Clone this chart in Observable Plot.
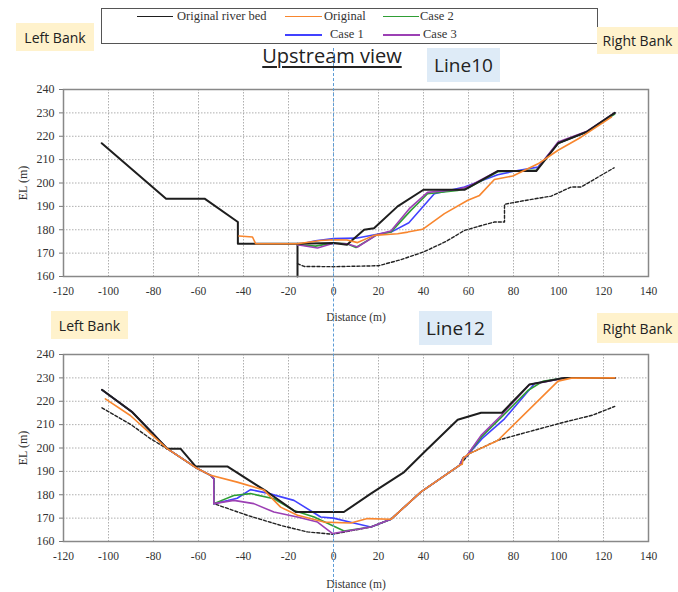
<!DOCTYPE html>
<html><head><meta charset="utf-8">
<script src="https://cdn.jsdelivr.net/npm/d3@7"></script>
<script src="https://cdn.jsdelivr.net/npm/@observablehq/plot@0.6"></script>
<style>
body{margin:0;background:#fff;}
#wrap{position:relative;width:678px;height:592px;overflow:hidden;font-family:"Open Sans",sans-serif;}
.abs{position:absolute;}
.bank{position:absolute;background:#fff2cc;font-size:14px;color:#222;display:flex;align-items:center;justify-content:center;}
.lbox{position:absolute;background:#deebf7;font-size:19px;color:#222;display:flex;align-items:center;justify-content:center;}
.leg{position:absolute;font-family:"Liberation Serif",serif;font-size:12.5px;color:#333;line-height:14px;}
</style></head>
<body><div id="wrap"></div>
<script>
// ---------- data ----------
const xTicks = [-120,-100,-80,-60,-40,-20,0,20,40,60,80,100,120,140];
const yTicks = [160,170,180,190,200,210,220,230,240];
const seriesNames = ["Original river bed","Original","Case 1","Case 2","Case 3"];
const seriesColors = ["#1e1e1e","#f8862e","#4141ff","#2f9e35","#9c40b4"];

// Line10
const bed10 = [[-103,217],[-74.4,193.3],[-57.3,193.3],[-42.5,183.3],[-42.5,174],[-16,174],[0,174.3],[6,173.6],[13.6,180],[18,180.6],[28.5,190],[40,197.1],[58.2,197.1],[73,205.1],[90.1,205.1],[99.8,217],[112.4,221.8],[125,230]];
const wall10 = [[-16,174],[-16,160]];
const rock10 = [[-16,165.5],[-13,164.3],[0,164.2],[20,164.6],[30,167.2],[40,170.5],[50,175],[58.2,179.7],[65,181.6],[71.5,183.3],[76,183.3],[76,190.9],[85,192.5],[96.8,194.4],[105.7,198.3],[110,198.3],[124.7,206.5]];
const orig10 = [[-42,177.3],[-36,176.9],[-34.6,174],[-16,174],[-5.6,175.4],[0,175.7],[6,175.6],[10.7,174.5],[18,177.6],[28.5,178.3],[33,179],[39.6,180.2],[49.3,186.9],[59.7,192.6],[64.9,194.7],[71.5,201.5],[79.7,203],[90.9,208.2],[99.8,214],[110,219.6],[123.5,228.2]];
const case1_10 = [[-16,173.6],[-8,175.3],[0,176.2],[10,176.4],[20,178.2],[26,179.2],[33.5,183],[44.8,195.4],[58.2,198.3],[73,203.5],[80,205],[90.9,206.8],[99.8,217],[112.4,221.8],[125,230]];
const case2_10 = [[-16,173.6],[-8,173],[0,174.4],[6,174],[10,172.4],[19.6,178],[25.5,179],[34.4,188.3],[41.8,195.4],[55.2,196.8],[60,198],[73,204.8],[90.1,205.5],[99.8,217],[112.4,221.8],[125,229.5]];
const case3_10 = [[-16,173.6],[-7.1,172.2],[0,174.2],[6,174],[10.7,172.6],[19.6,178],[25.5,179.5],[33.7,189],[41.8,196],[55.2,197.2],[60,198.5],[73,205.1],[90.1,205.3],[99.8,217.5],[112.4,222],[125,230]];

// Line12
const bed12 = [[-102.9,224.9],[-89.5,215.4],[-73.9,199.7],[-68,199.7],[-61.3,192.1],[-47.2,192.1],[-29.4,181.2],[-16.8,172.6],[4.6,172.6],[16.6,180.5],[31.4,189.7],[40.4,198.3],[55.2,212.1],[65.6,215.1],[74.9,215.1],[87.1,227.2],[102.7,230],[125,230]];
const rock12 = [[-102.9,217.2],[-90,210],[-81.4,204],[-73.9,199.7],[-60.5,191.2],[-54.6,188.3],[-53.2,186.9],[-53.2,176.2],[-38.3,171.2],[-23.5,166.9],[-11.6,164.1],[-0.4,163.1],[16.6,166.2],[25.5,169.5],[38.9,181.2],[56,192.6],[60.4,197.6],[73,203.3],[85,206.5],[102.7,211.1],[115,214],[125,217.8]];
const orig12 = [[-101.4,221],[-90.3,213.9],[-80,205],[-73.9,199.7],[-60.5,191.2],[-54.6,188.3],[-42.8,185.4],[-30.9,182],[-23.5,174.7],[-16,171.2],[-4.2,168.3],[7.7,167.9],[15.1,169.8],[25.5,169.5],[38.9,181.2],[56,192.6],[57.2,193],[57.7,195.9],[60.4,197.6],[73,203.2],[99.8,228.6],[105.7,229.9],[125,230]];
const case1_12 = [[-102.9,224.9],[-89.5,215.4],[-80,206],[-73.9,199.7],[-60.5,191.2],[-54.6,188.3],[-53.2,186.9],[-53.2,176.2],[-47,177.5],[-42.8,178.5],[-36.9,182.2],[-29.4,180.7],[-17.6,177.6],[-5.7,170.5],[0,170],[8.5,168],[16.6,166.2],[25.5,169.5],[38.9,181.2],[56,192.6],[57.7,195.9],[59,196.4],[66,204],[76,212.5],[89.4,227.6],[102.7,230],[125,230]];
const case2_12 = [[-102.9,224.9],[-89.5,215.4],[-80,206],[-73.9,199.7],[-60.5,191.2],[-54.6,188.3],[-53.2,186.9],[-53.2,176.2],[-44.3,179.7],[-36.9,180.5],[-26.5,178.3],[-17.6,173.3],[-8.6,170.5],[4.7,164.5],[16.6,166.2],[25.5,169.5],[38.9,181.2],[56,192.6],[57.7,195.9],[59,196.4],[66,205],[75,213.5],[86.4,224.6],[93,228.5],[102.7,230],[125,230]];
const case3_12 = [[-102.9,224.9],[-89.5,215.4],[-80,206],[-73.9,199.7],[-60.5,191.2],[-54.6,188.3],[-53.2,186.9],[-53.2,176.2],[-44.3,177.6],[-35.4,176.2],[-26.5,172.6],[-16.1,170.5],[-7.1,168.3],[-0.4,163.4],[16.6,166.2],[25.5,169.5],[38.9,181.2],[56,192.6],[57.7,195.9],[59,196.4],[65.6,205.4],[74.5,213.9],[87.1,227.2],[93.8,228.2],[102.7,230],[125,230]];

// ---------- layout ----------
const wrap = document.getElementById("wrap");
function el(cls, css, html){const d=document.createElement("div");d.className=cls;Object.assign(d.style,css);d.innerHTML=html||"";wrap.appendChild(d);return d;}

function panel(d, top, height, mb){
  const [bed, wall, rock, orig, c1, c2, c3] = d;
  const lw = 1.6;
  const marks = [
    Plot.gridX(xTicks, {stroke:"#9a9a9a", strokeOpacity:1, strokeDasharray:"1.5,1.5", strokeWidth:0.8}),
    Plot.gridY(yTicks, {stroke:"#9a9a9a", strokeOpacity:1, strokeDasharray:"1.5,1.5", strokeWidth:0.8}),
    Plot.axisY(yTicks, {tickSize:4, tickPadding:5, stroke:"#777", fontSize:12, label:"EL (m)", labelAnchor:"center", labelOffset:45, labelArrow:"none"}),
    Plot.axisX(xTicks, {tickSize:0, tickPadding:10, fontSize:11.5, tickFormat:v=>String(v), label:"Distance (m)", labelAnchor:"center", labelArrow:"none", labelOffset:mb-5}),
    Plot.line(rock, {x:"0", y:"1", stroke:"#222", strokeWidth:1.4, strokeDasharray:"3,2"}),
  ];
  if (wall) marks.push(Plot.line(wall, {x:"0", y:"1", stroke:seriesColors[0], strokeWidth:2}));
  marks.push(
    Plot.line(c1, {x:"0", y:"1", stroke:seriesColors[2], strokeWidth:lw}),
    Plot.line(c2, {x:"0", y:"1", stroke:seriesColors[3], strokeWidth:lw}),
    Plot.line(c3, {x:"0", y:"1", stroke:seriesColors[4], strokeWidth:lw}),
    Plot.line(bed, {x:"0", y:"1", stroke:seriesColors[0], strokeWidth:2}),
    Plot.line(orig, {x:"0", y:"1", stroke:seriesColors[1], strokeWidth:lw}),
    Plot.frame({stroke:"#888", strokeWidth:1.5})
  );
  const p = Plot.plot({
    width:678, height, marginLeft:63, marginRight:30, marginTop:7, marginBottom:mb,
    x:{domain:[-120,140]}, y:{domain:[160,240]},
    style:{fontFamily:"'Liberation Serif', serif", fontSize:"12px", color:"#333", background:"transparent", overflow:"visible"},
    marks
  });
  p.style.position="absolute"; p.style.left="0px"; p.style.top=top+"px";
  wrap.appendChild(p);
  return p;
}

const p1 = panel([bed10, wall10, rock10, orig10, case1_10, case2_10, case3_10], 82, 243, 49);
const p2 = panel([bed12, null, rock12, orig12, case1_12, case2_12, case3_12], 347, 245, 51);

// legend
const legBox = el("abs", {left:"101px", top:"8px", width:"495px", height:"34px", border:"1px solid #555", background:"#fff"});
const legPos = [[137,173,177,16.5],[285,322,324,16.5],[285,322,330,35],[383,419,420,16.5],[383,420,423,35]];
seriesNames.forEach((n,i)=>{
  const [x1,x2,tx,cy]=legPos[i];
  el("abs",{left:x1+"px",top:(cy-0.75)+"px",width:(x2-x1)+"px",height:"1.5px",background:seriesColors[i]});
  el("leg",{left:tx+"px",top:(cy-8)+"px"},n);
});

// labels
el("bank",{left:"16px",top:"23px",width:"78px",height:"28px"},"Left Bank");
el("bank",{left:"597px",top:"27px",width:"81px",height:"27px"},"Right Bank");
el("abs",{left:"232px",top:"42px",width:"200px",textAlign:"center",fontSize:"20px",color:"#222",textDecoration:"underline",textUnderlineOffset:"3px"},"Upstream view");
el("lbox",{left:"427px",top:"48px",width:"73px",height:"34px"},"Line10");
el("bank",{left:"51px",top:"311px",width:"77px",height:"28px"},"Left Bank");
el("lbox",{left:"419px",top:"311px",width:"73px",height:"34px"},"Line12");
el("bank",{left:"597px",top:"313px",width:"81px",height:"30px"},"Right Bank");

// dashed vertical reference at x = 0
const x0 = p1.scale("x").apply(0);
el("abs",{left:(x0-0.5)+"px",top:"48px",width:"0px",height:"544px",borderLeft:"1px dashed #5b9bd5",zIndex:10});
</script></body></html>
